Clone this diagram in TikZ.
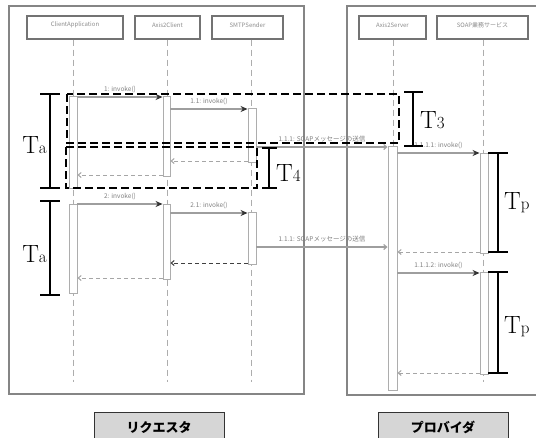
\documentclass[tikz,border=0pt]{standalone}
\usepackage{fontspec}
\newfontfamily\cjk{Noto Sans CJK JP}
\usetikzlibrary{arrows.meta,fit}
\begin{document}
\begin{tikzpicture}[x=1pt,y=-1pt,
  frame/.style={draw=black!48, line width=1.6pt},
  head/.style={draw=black!55, line width=1.3pt, fill=white, inner sep=0pt,
    font=\cjk\fontsize{6}{7}\selectfont, text=black!45},
  life/.style={draw=black!32, line width=0.9pt, dash pattern=on 6pt off 4pt},
  act/.style={draw=black!32, fill=white, line width=0.9pt, inner sep=0pt},
  call/.style={draw=black!38, line width=1.1pt,
    -{Stealth[length=7pt,width=6pt,color=black!80]}},
  msg/.style={draw=black!38, line width=1.1pt, -{Straight Barb[length=3pt,width=5pt]}},
  ret/.style={draw=black!35, line width=1pt, dash pattern=on 4pt off 3pt,
    -{Straight Barb[length=3pt,width=5pt]}},
  retdark/.style={ret, draw=black!75},
  mlabel/.style={font=\cjk\fontsize{6.5}{7}\selectfont, text=black!50, inner sep=1pt, above, yshift=3pt},
  box/.style={draw=black, line width=1.3pt, dash pattern=on 8pt off 4pt},
  brk/.style={draw=black, line width=1.6pt},
  tlab/.style={inner sep=0pt, font=\fontsize{25}{25}\selectfont},
  foot/.style={draw=black!80, line width=1pt, fill=black!16, inner sep=0pt,
    font=\cjk\bfseries\fontsize{13}{14}\selectfont}
]
\useasboundingbox (0,0) rectangle (536,437);
\clip (0,0) rectangle (536,437);
\fill[white] (0,0) rectangle (536,437);

% frames
\draw[frame] (9,6) rectangle (304,394);
\draw[frame] (347,6) rectangle (545,395);

% headers
\node[head, fit={(27,16)(123,39)}] (h1) {ClientApplication};
\node[head, fit={(135,16)(200,39)}] (h2) {Axis2Client};
\node[head, fit={(212,16)(283,39)}] (h3) {SMTPSender};
\node[head, fit={(359,16)(426,39)}] (h4) {Axis2Server};
\node[head, fit={(437,16)(528,39)}] (h5) {SOAP業務サービス};

% lifelines
\coordinate (l1) at (73,382);
\coordinate (l2) at (167,382);
\coordinate (l3) at (251,382);
\coordinate (l4) at (393,382);
\coordinate (l5) at (483,382);
\draw[life] (h1.south -| l1) -- (l1);
\draw[life] (h2.south -| l2) -- (l2);
\draw[life] (h3.south -| l3) -- (l3);
\draw[life] (h4.south -| l4) -- (l4);
\draw[life] (h5.south -| l5) -- (l5);

% activations
\node[act, fit={(69,96)(77,188)}] (ca1) {};
\node[act, fit={(69,204)(77,293)}] (ca2) {};
\node[act, fit={(163,96)(170,176)}] (ac1) {};
\node[act, fit={(163,204)(170,279)}] (ac2) {};
\node[act, fit={(248,108)(256,162)}] (sm1) {};
\node[act, fit={(248,212)(256,264)}] (sm2) {};
\node[act, fit={(388,146)(397,390)}] (as1) {};
\node[act, fit={(480,153)(488,253)}] (sv1) {};
\node[act, fit={(480,272)(488,374)}] (sv2) {};

% messages
\draw[call] (ca1.east |- 0,97) -- node[mlabel]{1: invoke()} (ac1.west |- 0,97);
\draw[call] (ac1.east |- 0,109) -- node[mlabel]{1.1: invoke()} (sm1.west |- 0,109);
\draw[msg] (sm1.east |- 0,147) -- node[mlabel]{1.1.1: SOAPメッセージの送信} (as1.west |- 0,147);
\draw[call] (as1.east |- 0,153) -- node[mlabel]{1.1.1.1: invoke()} (sv1.west |- 0,153);
\draw[ret] (sm1.west |- 0,161) -- (ac1.east |- 0,161);
\draw[ret] (ac1.west |- 0,175) -- (ca1.east |- 0,175);
\draw[call] (ca2.east |- 0,204) -- node[mlabel]{2: invoke()} (ac2.west |- 0,204);
\draw[call] (ac2.east |- 0,213) -- node[mlabel]{2.1: invoke()} (sm2.west |- 0,213);
\draw[msg] (sm2.east |- 0,247) -- node[mlabel]{1.1.1: SOAPメッセージの送信} (as1.west |- 0,247);
\draw[ret] (sv1.west |- 0,252) -- (as1.east |- 0,252);
\draw[retdark] (sm2.west |- 0,263) -- (ac2.east |- 0,263);
\draw[call] (as1.east |- 0,273) -- node[mlabel]{1.1.1.2: invoke()} (sv2.west |- 0,273);
\draw[ret] (ac2.west |- 0,278) -- (ca2.east |- 0,278);
\draw[ret] (sv2.west |- 0,373) -- (as1.east |- 0,373);

% dashed overlay boxes
\draw[box] (67,94) rectangle (399,143);
\draw[box] (66,147) rectangle (257,188);

% brackets
\draw[brk] (40,94) -- (60,94) (50,94) -- (50,188) (40,188) -- (60,188);
\node[tlab, anchor=base east] (ta1) at (47,153) {T{\fontsize{17}{17}\selectfont a}};
\draw[brk] (40,201) -- (60,201) (50,201) -- (50,295) (40,295) -- (60,295);
\node[tlab, anchor=base east] (ta2) at (47,262) {T{\fontsize{17}{17}\selectfont a}};
\draw[brk] (404,92) -- (423,92) (413,92) -- (413,146) (404,146) -- (423,146);
\node[tlab, anchor=base west] (t3) at (420,128) {T{\fontsize{17}{17}\selectfont 3}};
\draw[brk] (262,148) -- (277,148) (269,148) -- (269,188) (262,188) -- (277,188);
\node[tlab, anchor=base west] (t4) at (276,181) {T{\fontsize{17}{17}\selectfont 4}};
\draw[brk] (488,153) -- (508,153) (498,153) -- (498,252) (488,252) -- (508,252);
\node[tlab, anchor=base west] (tp1) at (504,209) {T{\fontsize{17}{17}\selectfont p}};
\draw[brk] (488,272) -- (508,272) (498,272) -- (498,373) (488,373) -- (508,373);
\node[tlab, anchor=base west] (tp2) at (504,333) {T{\fontsize{17}{17}\selectfont p}};

% footers
\node[foot, fit={(94,412)(224,442)}] (req) {};
\node[font=\cjk\bfseries\fontsize{13}{14}\selectfont, inner sep=0pt] at (159,427) {リクエスタ};
\node[foot, fit={(378,412)(508,442)}] (prov) {};
\node[font=\cjk\bfseries\fontsize{13}{14}\selectfont, inner sep=0pt] at (443,427) {プロバイダ};
\end{tikzpicture}
\end{document}
